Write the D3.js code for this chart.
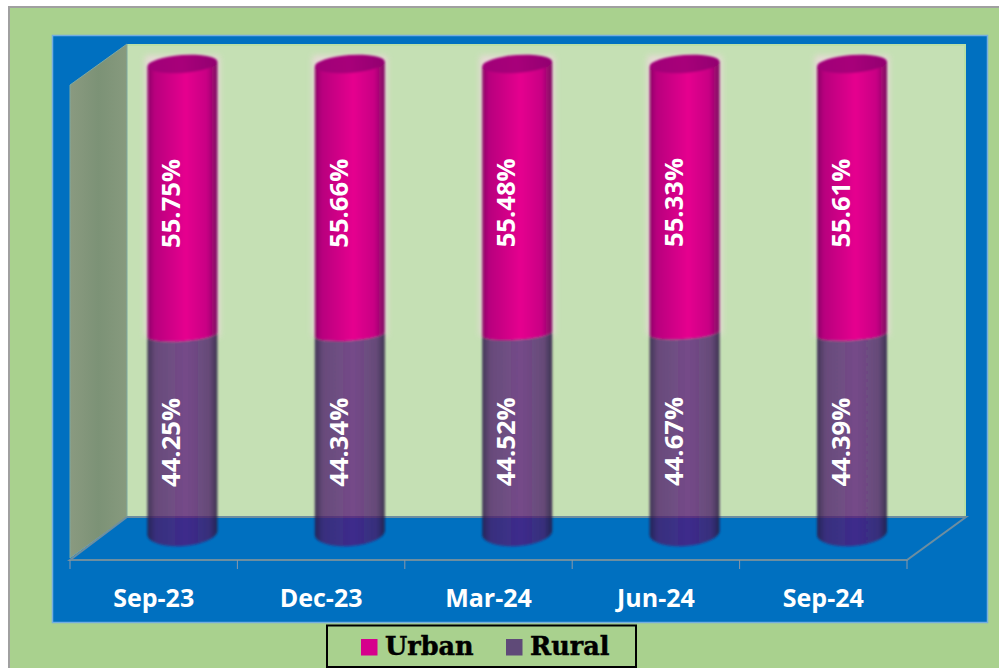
<!DOCTYPE html>
<html><head><meta charset="utf-8">
<script src="https://cdn.jsdelivr.net/npm/d3@7"></script>
<style>html,body{margin:0;padding:0;background:#fff;overflow:hidden}svg{display:block}</style>
</head><body><svg id="c" width="999" height="668"></svg>
<script>
const categories = ["Sep-23","Dec-23","Mar-24","Jun-24","Sep-24"];
const urban = [55.75,55.66,55.48,55.33,55.61];
const rural = [44.25,44.34,44.52,44.67,44.39];
const legendLabels = ["Urban","Rural"];

const svg = d3.select("#c");
const font = "'Open Sans',sans-serif";
const slab = "'DejaVu Serif',serif";
const defs = svg.append("defs");
function grad(id, stops){
  const g = defs.append("linearGradient").attr("id",id).attr("x1",0).attr("x2",1).attr("y1",0).attr("y2",0);
  stops.forEach(s=>g.append("stop").attr("offset",s[0]).attr("stop-color",s[1]).attr("stop-opacity",s[2]===undefined?1:s[2]));
}
grad("urbanG",[[0,"#8c0a68"],[.1,"#b8007e"],[.55,"#e6008f"],[.85,"#c80084"],[1,"#7d0f62"]]);
grad("ruralG",[[0,"#2a1845",.85],[.12,"#4a1a68",.76],[.55,"#561578",.72],[.88,"#481866",.76],[1,"#261640",.86]]);
grad("capG",[[0,"#a00078"],[.5,"#a8007a"],[1,"#920070"]]);
grad("wallG",[[0,"#8a9a80"],[.5,"#7c9276"],[1,"#879a7e"]]);
defs.append("filter").attr("id","soft").attr("x","-10%").attr("width","120%").append("feGaussianBlur").attr("stdDeviation",.9);
defs.append("filter").attr("id","halo").attr("x","-20%").attr("width","140%").append("feGaussianBlur").attr("stdDeviation",3);

// frame
svg.append("rect").attr("x",9).attr("y",7).attr("width",990).attr("height",661).attr("fill","#a9d18e");
svg.append("path").attr("d","M9,668V7H999").attr("fill","none").attr("stroke","#a0a0a0").attr("stroke-width",2);
svg.append("rect").attr("x",52.5).attr("y",35.5).attr("width",935).attr("height",587).attr("fill","#0070c0").attr("stroke","#74aee0").attr("stroke-width",1.5);

// walls
svg.append("rect").attr("x",127).attr("y",44).attr("width",839).attr("height",473).attr("fill","#c5e0b4");
svg.append("path").attr("d","M127,45H965V517").attr("fill","none").attr("stroke","#b9dfa6").attr("stroke-width",2);
svg.append("path").attr("d","M70,85L127,44V517L70,558Z").attr("fill","url(#wallG)").attr("stroke","#7fa8a0").attr("stroke-width",1);

// scales
const x = d3.scaleBand().domain(categories).range([70,907]);
const y = d3.scaleLinear().domain([0,100]).range([550,64]);
const depth = 28.7, halfW = 35, tilt = 2.6, capRy = 9;

// floor edges
svg.append("path").attr("d","M127,517H966L907,560H70L127,517").attr("fill","#0070c0").attr("stroke","#6d8ea0").attr("stroke-width",2);
const ticks = categories.map(c=>x(c)).concat([x.range()[1]]);
svg.selectAll(".tk").data(ticks).join("line").attr("x1",d=>d).attr("x2",d=>d).attr("y1",560).attr("y2",569).attr("stroke","#8a98a8").attr("stroke-width",1);

// axis labels
const ax = svg.append("g").attr("transform","translate(0,560)").call(d3.axisBottom(x).tickSize(0).tickPadding(29));
ax.select(".domain").remove();
ax.selectAll("text").attr("font-family",font).attr("font-weight",700).attr("font-size",25).attr("fill","#fff");

// cylinders
const cx = c => x(c)+x.bandwidth()/2+depth;
const baseLift = 17;
const bars = svg.selectAll(".bar").data(categories.map((c,i)=>({c,u:urban[i],r:rural[i]}))).join("g").attr("class","bar");

// halo
bars.append("rect").attr("x",d=>cx(d.c)-halfW-2).attr("y",d=>y(100)-8).attr("width",halfW*2+4).attr("height",d=>y(d.r)-y(100)+10)
  .attr("fill","#f4d8e4").attr("opacity",.8).attr("filter","url(#halo)");

const g = bars.append("g").attr("filter","url(#soft)");
// rural body
g.append("path").attr("d",d=>{
  const l=cx(d.c)-halfW,r=cx(d.c)+halfW,yt=y(d.r),yb=y(0)-baseLift;
  return `M${l},${yt+tilt}A${halfW},6 -4 0 0 ${r},${yt-tilt}L${r},${yb-tilt}A${halfW},13 -4 0 1 ${l},${yb+tilt}Z`;
}).attr("fill","url(#ruralG)");
// urban body
g.append("path").attr("d",d=>{
  const l=cx(d.c)-halfW,r=cx(d.c)+halfW,yt=y(100),yb=y(d.r);
  return `M${l},${yt+tilt}L${r},${yt-tilt}L${r},${yb-tilt}A${halfW},6 -4 0 1 ${l},${yb+tilt}Z`;
}).attr("fill","url(#urbanG)");
// top cap
g.append("ellipse").attr("cx",d=>cx(d.c)).attr("cy",y(100)).attr("rx",halfW).attr("ry",capRy)
  .attr("transform",d=>`rotate(-4 ${cx(d.c)} ${y(100)})`).attr("fill","url(#capG)");

// data labels
const lab = (val,pos) => bars.append("text")
  .attr("transform",d=>`translate(${cx(d.c)-2},${pos(d)}) rotate(-90)`)
  .attr("text-anchor","middle").attr("font-family",font).attr("font-weight",700).attr("font-size",25.6)
  .attr("fill","#fff").text(d=>val(d).toFixed(2)+"%");
lab(d=>d.u,d=>(y(100)+y(d.r))/2+4);
lab(d=>d.r,d=>(y(0)+y(d.r))/2);

// legend
const lg = svg.append("g");
lg.append("rect").attr("x",327).attr("y",625.5).attr("width",309).attr("height",41.5).attr("fill","#a9d18e").attr("stroke","#000").attr("stroke-width",2);
const legendCols = ["#d6008c","#5f4a78"], legendX = [361,506];
lg.selectAll(".sw").data(legendLabels).join("rect").attr("x",(d,i)=>legendX[i]).attr("y",639).attr("width",16.5).attr("height",16.5).attr("fill",(d,i)=>legendCols[i]);
lg.selectAll(".lt").data(legendLabels).join("text").attr("x",(d,i)=>legendX[i]+24).attr("y",655).attr("font-family",slab).attr("font-weight",700).attr("font-size",25.5).attr("fill","#000").attr("stroke","#000").attr("stroke-width",.5).text(d=>d);
</script></body></html>
